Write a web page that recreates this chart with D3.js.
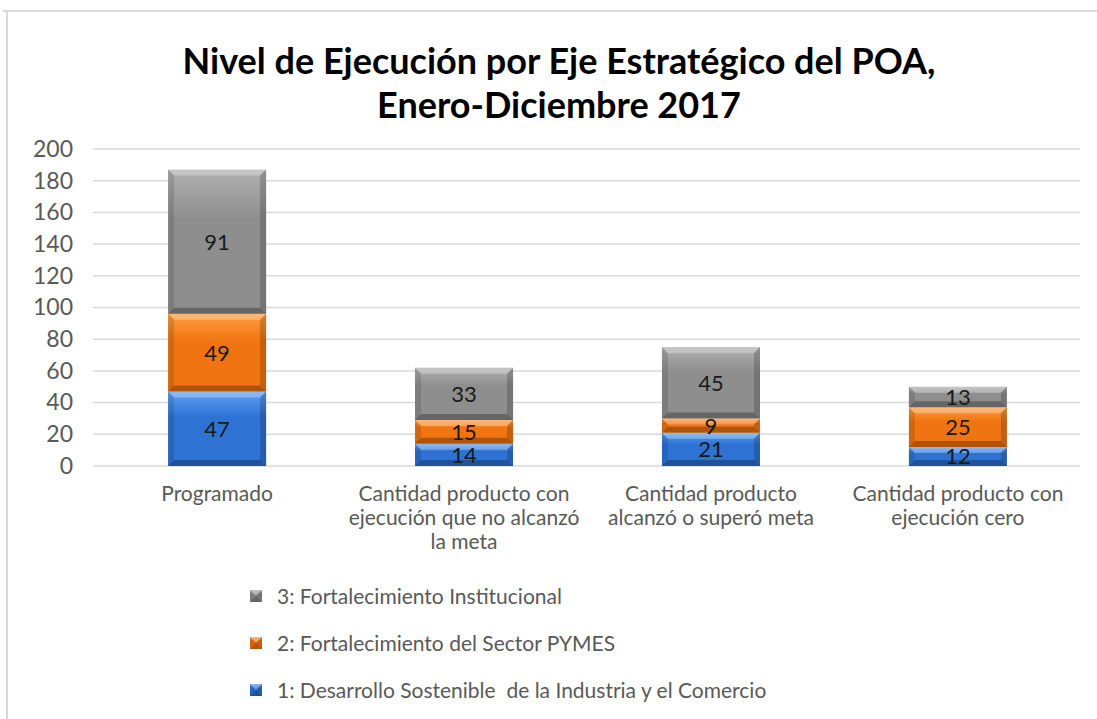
<!DOCTYPE html>
<html>
<head>
<meta charset="utf-8">
<script src="https://cdn.jsdelivr.net/npm/d3@7/dist/d3.min.js"></script>
<style>
  body { margin: 0; background: #fff; }
  text { font-family: Lato, "Open Sans", sans-serif; white-space: pre; }
</style>
</head>
<body>
<svg id="chart"></svg>
<script>
var width = 1097, height = 719;

// data
var categories = [
  "Programado",
  "Cantidad producto con ejecución que no alcanzó la meta",
  "Cantidad producto alcanzó o superó meta",
  "Cantidad producto con ejecución cero"
];
var categoryLines = [
  ["Programado"],
  ["Cantidad producto con", "ejecución que no alcanzó", "la meta"],
  ["Cantidad producto", "alcanzó o superó meta"],
  ["Cantidad producto con", "ejecución cero"]
];
var seriesNames = [
  "1: Desarrollo Sostenible  de la Industria y el Comercio",
  "2: Fortalecimiento del Sector PYMES",
  "3: Fortalecimiento Institucional"
];
var eje1 = [47, 14, 21, 12];
var eje2 = [49, 15, 9, 25];
var eje3 = [91, 33, 45, 13];
var yTicks = [0, 20, 40, 60, 80, 100, 120, 140, 160, 180, 200];

var colors = [
  { base: "#2e72d4", light: "#5f9ff4", dark: "#1d4fa3" },
  { base: "#f07512", light: "#ff9d42", dark: "#b9530a" },
  { base: "#8e8e8e", light: "#b0b0b0", dark: "#6a6a6a" }
];

var rows = categories.map(function(c, i) {
  return { cat: c, s0: eje1[i], s1: eje2[i], s2: eje3[i] };
});
var stack = d3.stack().keys(["s0", "s1", "s2"])(rows);

var svg = d3.select("#chart").attr("width", width).attr("height", height);

// chart frame (top + left edge only, as in the screenshot)
svg.append("line").attr("x1", 3).attr("x2", width).attr("y1", 11).attr("y2", 11)
  .attr("stroke", "#d9d9d9").attr("stroke-width", 2);
svg.append("line").attr("x1", 7).attr("x2", 7).attr("y1", 11).attr("y2", height)
  .attr("stroke", "#d9d9d9").attr("stroke-width", 2);

var defs = svg.append("defs");
colors.forEach(function(c, i) {
  var g = defs.append("linearGradient").attr("id", "grad" + i)
    .attr("x1", 0).attr("y1", 0).attr("x2", 0).attr("y2", 1);
  g.append("stop").attr("offset", "0%").attr("stop-color", c.light);
  g.append("stop").attr("offset", "35%").attr("stop-color", c.base);
  g.append("stop").attr("offset", "100%").attr("stop-color", c.base);
});

var x = d3.scaleBand().domain(categories).range([93, 1082])
  .paddingInner(0.603).paddingOuter(0.304);
var y = d3.scaleLinear().domain([0, 200]).range([466, 149]);

// gridlines
svg.append("g")
  .selectAll("line")
  .data(yTicks)
  .enter()
  .append("line")
  .attr("x1", 93).attr("x2", 1080)
  .attr("y1", function(d) { return y(d); })
  .attr("y2", function(d) { return y(d); })
  .attr("stroke", "#d9d9d9").attr("stroke-width", 1.5);

// y axis labels
var yAxis = svg.append("g")
  .attr("transform", "translate(93,0)")
  .call(d3.axisLeft(y).tickValues(yTicks).tickSize(0).tickPadding(20));
yAxis.select(".domain").remove();
yAxis.selectAll("text")
  .style("font-family", "Lato, sans-serif")
  .style("font-size", "23px")
  .attr("fill", "#595959");

// beveled segment
function bevel(g, x0, y0, w, h, c, i) {
  var b = Math.min(6, h / 2);
  g.append("rect").attr("x", x0).attr("y", y0).attr("width", w).attr("height", h)
    .attr("fill", "url(#grad" + i + ")");
  var x1 = x0 + w, y1 = y0 + h;
  function poly(pts, fill, op) {
    g.append("polygon")
      .attr("points", pts.map(function(p) { return p.join(","); }).join(" "))
      .attr("fill", fill).attr("opacity", op);
  }
  poly([[x0, y0], [x1, y0], [x1 - b, y0 + b], [x0 + b, y0 + b]], "#ffffff", 0.28);
  poly([[x0, y1], [x1, y1], [x1 - b, y1 - b], [x0 + b, y1 - b]], "#000000", 0.28);
  poly([[x0, y0], [x0 + b, y0 + b], [x0 + b, y1 - b], [x0, y1]], "#000000", 0.12);
  poly([[x1, y0], [x1 - b, y0 + b], [x1 - b, y1 - b], [x1, y1]], "#000000", 0.18);
}

var bars = svg.append("g");
stack.forEach(function(layer, i) {
  layer.forEach(function(d) {
    var x0 = x(d.data.cat);
    var top = y(d[1]), bot = y(d[0]);
    bevel(bars, x0, top, x.bandwidth(), bot - top, colors[i], i);
  });
});

// data labels
var labels = svg.append("g");
stack.forEach(function(layer, i) {
  layer.forEach(function(d) {
    labels.append("text")
      .attr("x", x(d.data.cat) + x.bandwidth() / 2)
      .attr("y", (y(d[0]) + y(d[1])) / 2)
      .attr("dy", "0.36em")
      .attr("text-anchor", "middle")
      .style("font-size", "22px")
      .attr("fill", "#1a1a1a")
      .text(d[1] - d[0]);
  });
});

// category labels
categories.forEach(function(c, i) {
  var t = svg.append("text")
    .attr("text-anchor", "middle")
    .style("font-size", "21px")
    .attr("fill", "#595959");
  categoryLines[i].forEach(function(line, j) {
    t.append("tspan")
      .attr("x", x(c) + x.bandwidth() / 2)
      .attr("y", 501 + j * 24)
      .text(line);
  });
});

// title
svg.append("text")
  .attr("x", 559).attr("y", 74)
  .attr("text-anchor", "middle")
  .style("font-size", "36px").style("font-weight", "bold")
  .attr("fill", "#000")
  .text("Nivel de Ejecución por Eje Estratégico del POA,");
svg.append("text")
  .attr("x", 559).attr("y", 118)
  .attr("text-anchor", "middle")
  .style("font-size", "36px").style("font-weight", "bold")
  .attr("fill", "#000")
  .text("Enero-Diciembre 2017");

// legend (series listed top-down in reverse order)
var legend = svg.append("g");
[2, 1, 0].forEach(function(s, k) {
  var cy = 596 + k * 47;
  var lg = legend.append("g");
  bevel(lg, 250, cy - 6, 12, 12, colors[s], s);
  legend.append("text")
    .attr("x", 277).attr("y", cy)
    .attr("dy", "0.36em")
    .style("font-size", "21px")
    .attr("fill", "#595959")
    .text(seriesNames[s]);
});
</script>
</body>
</html>
